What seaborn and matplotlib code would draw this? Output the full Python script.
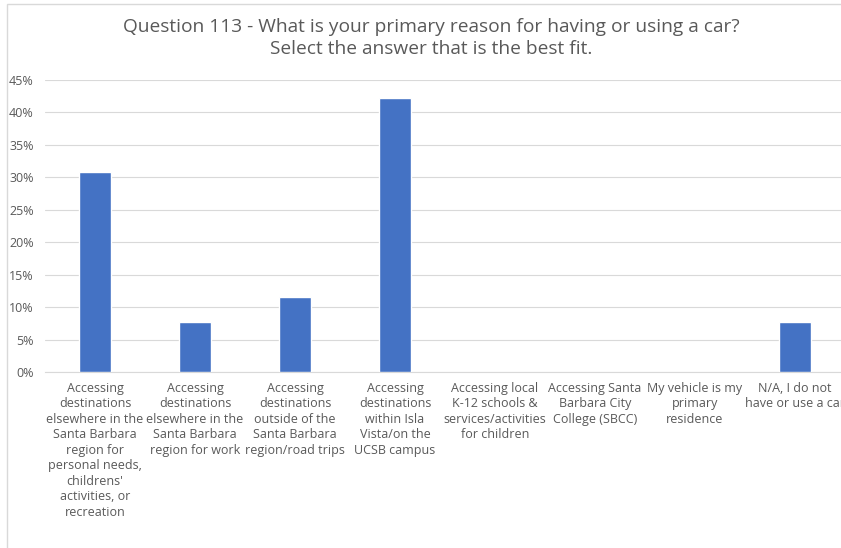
import matplotlib
matplotlib.use("Agg")
import matplotlib.pyplot as plt
import seaborn as sns
import pandas as pd
from matplotlib.patches import Rectangle
from matplotlib.ticker import FuncFormatter, MultipleLocator

categories = [
    "Accessing\ndestinations\nelsewhere in the\nSanta Barbara\nregion for\npersonal needs,\nchildrens'\nactivities, or\nrecreation",
    "Accessing\ndestinations\nelsewhere in the\nSanta Barbara\nregion for work",
    "Accessing\ndestinations\noutside of the\nSanta Barbara\nregion/road trips",
    "Accessing\ndestinations\nwithin Isla\nVista/on the\nUCSB campus",
    "Accessing local\nK-12 schools &\nservices/activities\nfor children",
    "Accessing Santa\nBarbara City\nCollege (SBCC)",
    "My vehicle is my\nprimary\nresidence",
    "N/A, I do not\nhave or use a car",
]
values = [30.8, 7.7, 11.5, 42.3, 0.0, 0.0, 0.0, 7.7]
title = "Question 113 - What is your primary reason for having or using a car?\nSelect the answer that is the best fit."

sns.set_theme(style="white")
plt.rcParams['font.family'] = ['Open Sans', 'DejaVu Sans']

df = pd.DataFrame({"cat": categories, "val": values})

fig = plt.figure(figsize=(8.41, 5.48), dpi=100)
W, H = 841, 548
ax = fig.add_axes([45 / W, (H - 372) / H, 800 / W, (372 - 80) / H])
sns.barplot(data=df, x="cat", y="val", color="#4472C4", width=0.32,
            saturation=1, ax=ax, zorder=3)
ax.set_ylim(0, 45)
ax.set_xlim(-0.5, 7.5)
ax.yaxis.set_major_locator(MultipleLocator(5))
ax.yaxis.set_major_formatter(FuncFormatter(lambda v, p: f"{int(round(v))}%"))
ax.grid(axis="y", color="#d9d9d9", linewidth=0.8, zorder=0)
ax.set_axisbelow(True)
for s in ["top", "right", "left"]:
    ax.spines[s].set_visible(False)
ax.spines["bottom"].set_color("#d9d9d9")
ax.spines["bottom"].set_linewidth(0.8)
ax.set_xlabel("")
ax.set_ylabel("")
ax.tick_params(axis="y", length=0, pad=8, labelsize=9, labelcolor="#595959")
ax.tick_params(axis="x", length=0, pad=7, labelsize=9, labelcolor="#595959")
for lab in ax.get_xticklabels():
    lab.set_linespacing(1.25)
    lab.set_multialignment("center")

fig.text(431 / W, 1 - 38 / H, title, ha="center", va="center", fontsize=13.8,
         color="#595959", linespacing=1.3)

fig.patches.append(Rectangle((7 / W, -0.01), 1.0, 1 - 4 / H + 0.01,
                             transform=fig.transFigure, fill=False,
                             edgecolor="#d9d9d9", linewidth=1))

fig.savefig("out.png", dpi=100)
